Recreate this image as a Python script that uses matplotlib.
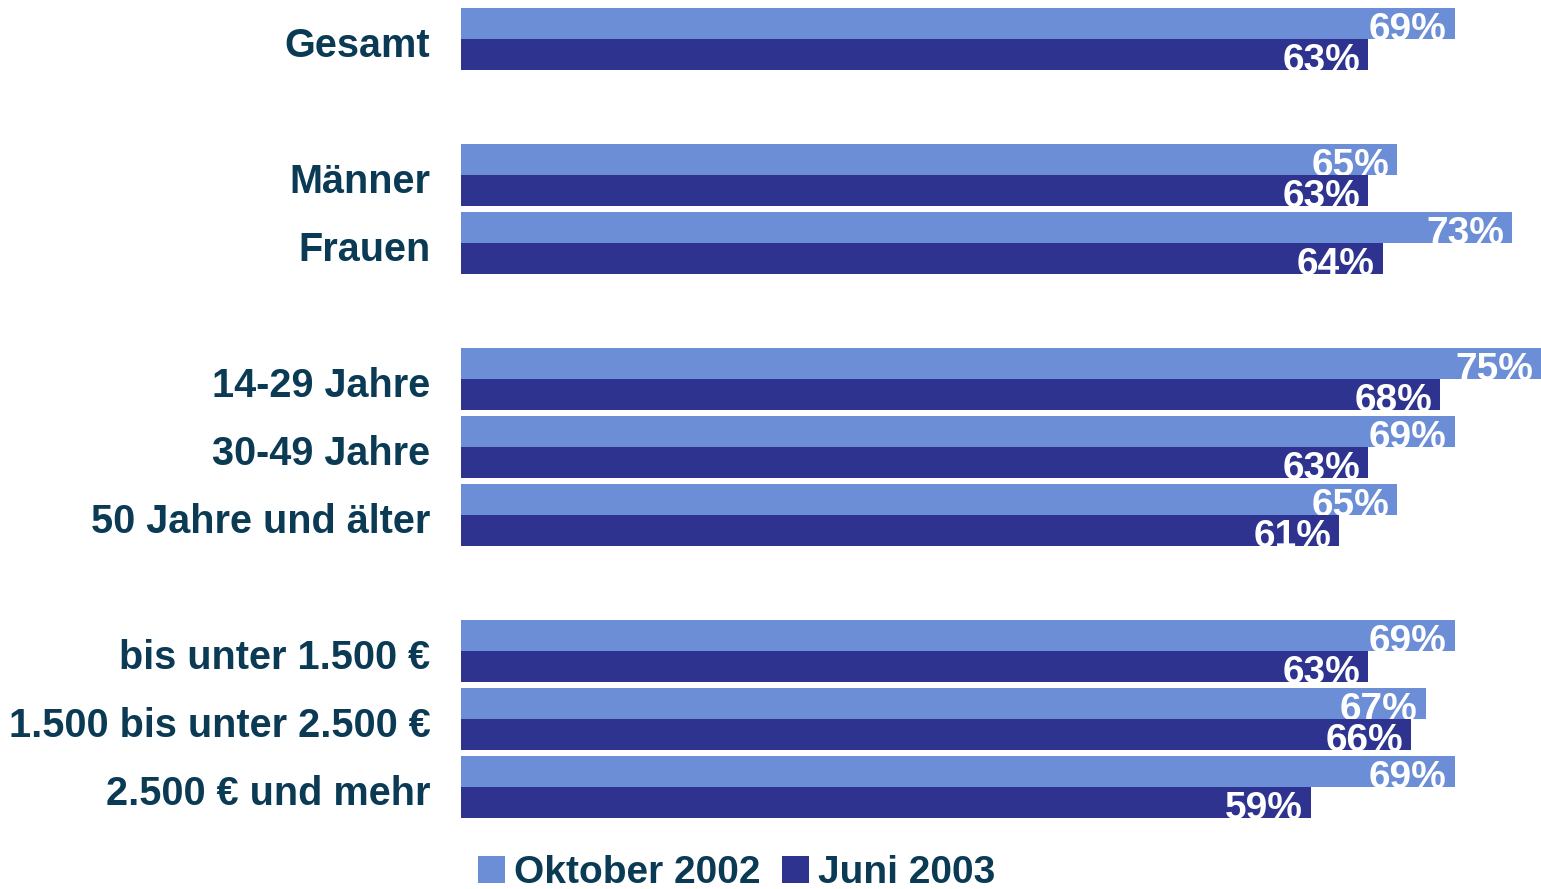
import matplotlib.pyplot as plt
from matplotlib.patches import Patch
import numpy as np

# Daten (Anteile in Prozent)
categories = [
    "Gesamt",
    "Männer",
    "Frauen",
    "14-29 Jahre",
    "30-49 Jahre",
    "50 Jahre und älter",
    "bis unter 1.500 €",
    "1.500 bis unter 2.500 €",
    "2.500 € und mehr",
]
oktober_2002 = [69, 65, 73, 75, 69, 65, 69, 67, 69]
juni_2003 = [63, 63, 64, 68, 63, 61, 63, 66, 59]
series_names = ["Oktober 2002", "Juni 2003"]

# Zeilenplätze: leere Plätze trennen die Gruppen
slots = [0, 2, 3, 5, 6, 7, 9, 10, 11]

LIGHT = "#6b8ed6"
DARK = "#2d338e"
TEXT_COLOR = "#0b3a55"
FONT = ["Liberation Sans", "DejaVu Sans"]

plt.rcParams["font.family"] = FONT
plt.rcParams["font.weight"] = "bold"

W, H = 1541, 889
fig = plt.figure(figsize=(W / 100, H / 100), dpi=100)
ax = fig.add_axes([461 / W, 0, 1 - 461 / W, 1])

y = np.array(slots, dtype=float)
bar_h = 0.463

light_bars = ax.barh(y - bar_h / 2, oktober_2002, height=bar_h, color=LIGHT, linewidth=0)
dark_bars = ax.barh(y + bar_h / 2, juni_2003, height=bar_h, color=DARK, linewidth=0)

# Werte rechts innen, an der Balkenunterkante abgeschnitten
for bars, values in [(light_bars, oktober_2002), (dark_bars, juni_2003)]:
    for rect, v in zip(bars, values):
        bottom = rect.get_y() + rect.get_height()
        t = ax.annotate(
            f"{v}%",
            xy=(v, bottom),
            xytext=(-5.8, -0.7),
            textcoords="offset points",
            ha="right",
            va="baseline",
            color="white",
            fontsize=28,
            fontweight="bold",
        )
        t.set_clip_path(rect)

ax.set_xlim(0, 75)
ax.set_ylim((H - 39) / 68, -39 / 68)

ax.set_yticks(y + 0.05)
ax.set_yticklabels(categories, fontsize=28.5, fontweight="bold", color=TEXT_COLOR)
ax.tick_params(axis="y", length=0, pad=22)
ax.set_xticks([])
for side in ["top", "right", "bottom", "left"]:
    ax.spines[side].set_visible(False)

handles = [Patch(facecolor=LIGHT, edgecolor="none"), Patch(facecolor=DARK, edgecolor="none")]
leg = fig.legend(
    handles,
    series_names,
    loc="center left",
    bbox_to_anchor=(478 / W, 1 - 873 / H),
    ncol=2,
    frameon=False,
    fontsize=28,
    handlelength=0.7,
    handleheight=0.7,
    handletextpad=0.23,
    columnspacing=0.55,
    borderpad=0,
    borderaxespad=0,
)
for txt in leg.get_texts():
    txt.set_color(TEXT_COLOR)
    txt.set_fontweight("bold")

fig.savefig("out.png", dpi=100)
